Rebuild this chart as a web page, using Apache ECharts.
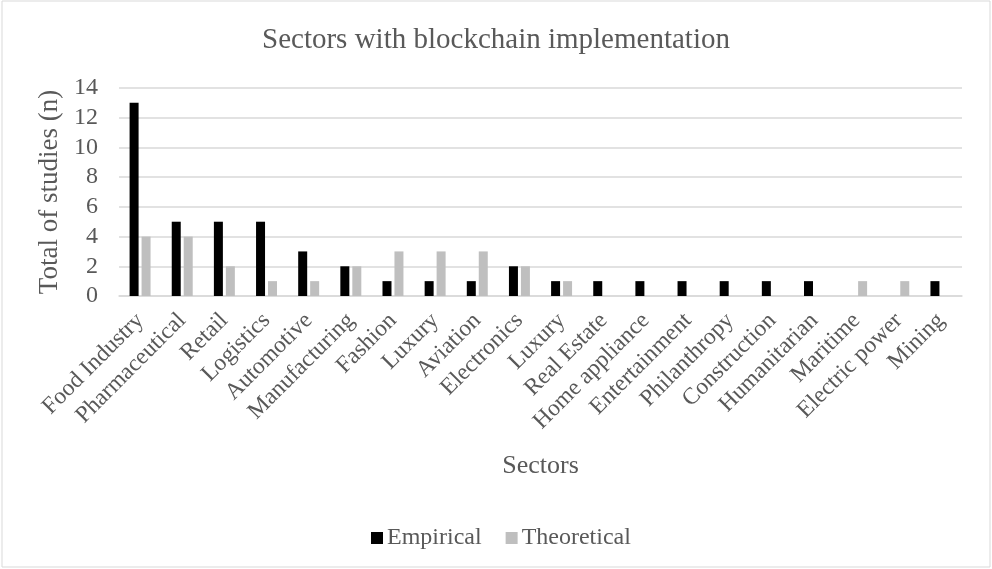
<!DOCTYPE html>
<html>
<head>
<meta charset="utf-8">
<script src="https://cdn.jsdelivr.net/npm/echarts@6/dist/echarts.min.js"></script>
<style>
html,body{margin:0;padding:0;background:#fff;}
#chart{width:992px;height:569px;}
</style>
</head>
<body>
<div id="chart"></div>
<script>
var categories = ['Food Industry','Pharmaceutical','Retail','Logistics','Automotive','Manufacturing','Fashion','Luxury','Aviation','Electronics','Luxury','Real Estate','Home appliance','Entertainment','Philanthropy','Construction','Humanitarian','Maritime','Electric power','Mining'];
var empirical = [13,5,5,5,3,2,1,1,1,2,1,1,1,1,1,1,1,0,0,1];
var theoretical = [4,4,2,1,1,2,3,3,3,2,1,0,0,0,0,0,0,1,1,0];
var yTicks = [0,2,4,6,8,10,12,14];

var FONT = 'Liberation Serif';
var TXT = '#595959';
var chart = echarts.init(document.getElementById('chart'), null, {renderer:'canvas'});
chart.setOption({
  backgroundColor: '#ffffff',
  animation: false,
  title: {
    text: 'Sectors with blockchain implementation',
    left: 'center', top: 21,
    textStyle: {fontFamily: FONT, fontSize: 29, fontWeight: 'normal', color: TXT}
  },
  legend: {
    top: 521, left: 366,
    itemWidth: 12, itemHeight: 12, itemGap: 24,
    icon: 'rect',
    textStyle: {fontFamily: FONT, fontSize: 24, color: TXT, padding: [0,0,0,-1]},
    data: ['Empirical','Theoretical']
  },
  grid: {left: 119, right: 30, top: 88, bottom: 273, containLabel: false},
  xAxis: {
    type: 'category',
    data: categories,
    name: 'Sectors',
    nameLocation: 'middle',
    nameGap: 157,
    nameTextStyle: {fontFamily: FONT, fontSize: 26, color: TXT},
    axisLine: {show: true, lineStyle: {color: '#d9d9d9', width: 1.5}},
    axisTick: {show: false},
    axisLabel: {interval: 0, rotate: 45, margin: 21, fontFamily: FONT, fontSize: 23.5, color: TXT}
  },
  yAxis: {
    type: 'value',
    min: yTicks[0], max: yTicks[yTicks.length-1], interval: 2,
    name: 'Total of studies (n)',
    nameLocation: 'middle',
    nameRotate: 90,
    nameGap: 54,
    nameTextStyle: {fontFamily: FONT, fontSize: 27, color: TXT},
    axisLine: {show: false},
    axisTick: {show: false},
    axisLabel: {margin: 21, fontFamily: FONT, fontSize: 24, color: TXT},
    splitLine: {show: true, lineStyle: {color: '#d9d9d9', width: 1.5}}
  },
  graphic: [{
    type: 'rect', silent: true, z: -1,
    shape: {x: 2, y: 1, width: 988, height: 566},
    style: {fill: 'none', stroke: '#d9d9d9', lineWidth: 1}
  }],
  series: [
    {name: 'Empirical', type: 'bar', data: empirical, barWidth: 9, barGap: '33%',
     itemStyle: {color: '#000000'}},
    {name: 'Theoretical', type: 'bar', data: theoretical, barWidth: 9, barGap: '33%',
     itemStyle: {color: '#bfbfbf'}}
  ]
});
</script>
</body>
</html>
